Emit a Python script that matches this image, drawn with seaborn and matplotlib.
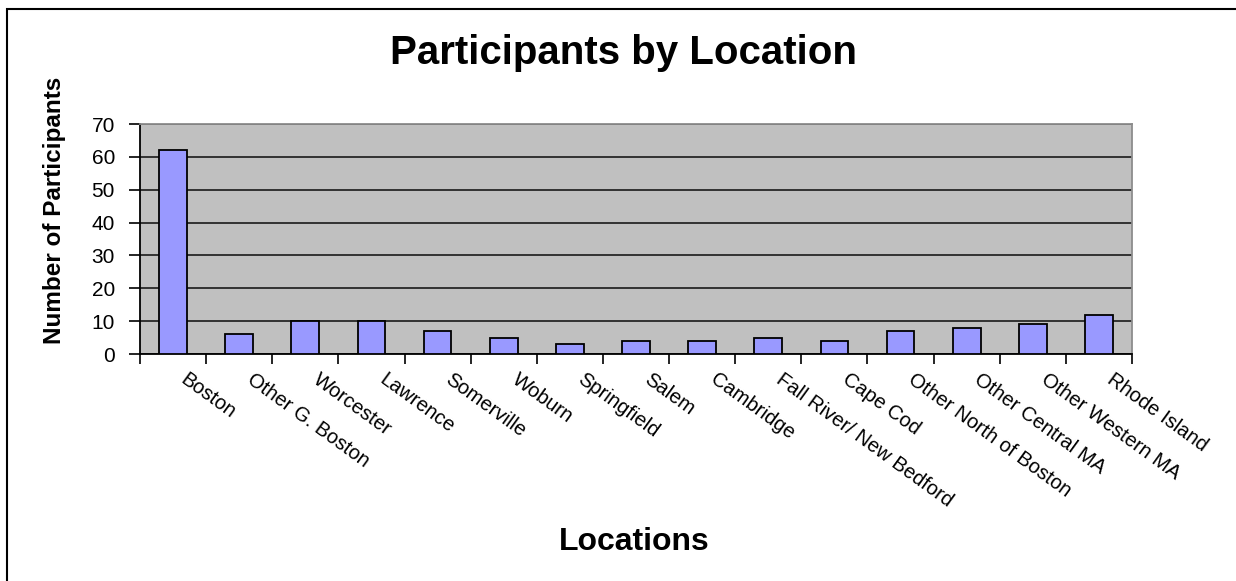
import matplotlib
matplotlib.use("Agg")
import matplotlib.pyplot as plt
import matplotlib.transforms as mtransforms
from matplotlib.patches import Rectangle
import numpy as np
import pandas as pd
import seaborn as sns

locations = ["Boston", "Other G. Boston", "Worcester", "Lawrence", "Somerville",
             "Woburn", "Springfield", "Salem", "Cambridge", "Fall River/ New Bedford",
             "Cape Cod", "Other North of Boston", "Other Central MA",
             "Other Western MA", "Rhode Island"]
participants = [62, 6, 10, 10, 7, 5, 3, 4, 4, 5, 4, 7, 8, 9, 12]
y_ticks = [0, 10, 20, 30, 40, 50, 60, 70]

title = "Participants by Location"
x_label = "Locations"
y_label = "Number of Participants"

sns.set_style("ticks")
plt.rcParams["font.family"] = ["Liberation Sans", "DejaVu Sans"]
plt.rcParams["text.color"] = "black"
plt.rcParams["xtick.color"] = "black"
plt.rcParams["ytick.color"] = "black"
plt.rcParams["xtick.labelcolor"] = "black"
plt.rcParams["ytick.labelcolor"] = "black"

W, H = 1236, 581
fig = plt.figure(figsize=(W / 100, H / 100), dpi=100)
ax = fig.add_axes([140 / W, 1 - 354 / H, (1132 - 140) / W, (354 - 124) / H])

df = pd.DataFrame({"Location": locations, "Participants": participants})
sns.barplot(data=df, x="Location", y="Participants", color="#9999FF",
            edgecolor="black", linewidth=1.3, width=0.42, saturation=1,
            ax=ax, zorder=3)

ax.set_facecolor("#C0C0C0")
ax.set_ylim(0, 70)
ax.set_xlim(-0.5, len(locations) - 0.5)
ax.set_yticks(y_ticks)
ax.set_yticklabels([str(v) for v in y_ticks], fontsize=15, color="black")
ax.yaxis.grid(True, color="#1a1a1a", linewidth=1.2, zorder=1)
ax.set_axisbelow(True)
ax.tick_params(axis="y", direction="out", length=8, width=1.2, color="black", pad=10)

# category labels at centers, tick marks at boundaries
ax.set_xticks(np.arange(len(locations)))
ax.set_xticklabels(locations, fontsize=14.5, rotation=-36, ha="left", va="center",
                   rotation_mode="anchor", color="black")
ax.tick_params(axis="x", which="major", length=0, pad=17)
ax.set_xticks(np.arange(len(locations) + 1) - 0.5, minor=True)
ax.tick_params(axis="x", which="minor", direction="out", length=7, width=1.2, color="black")
offset = mtransforms.ScaledTranslation(10 / 100, 0, fig.dpi_scale_trans)
for lbl in ax.get_xticklabels():
    lbl.set_transform(lbl.get_transform() + offset)

for s in ["left", "bottom"]:
    ax.spines[s].set_color("black")
    ax.spines[s].set_linewidth(1.3)
for s in ["top", "right"]:
    ax.spines[s].set_color("#8c8c8c")
    ax.spines[s].set_linewidth(1.3)

ax.set_xlabel("")
ax.set_ylabel("")
fig.text(623 / W, 1 - 53 / H, title, ha="center", va="center",
         fontsize=29, fontweight="bold", color="black")
fig.text(634 / W, 1 - 542 / H, x_label, ha="center", va="center",
         fontsize=23, fontweight="bold", color="black")
fig.text(54 / W, 1 - 210 / H, y_label, ha="center", va="center",
         fontsize=17.5, fontweight="bold", rotation=90, color="black")

# chart-area border (left and top visible)
fig.patches.append(Rectangle((7 / W, -0.2), 1.5, 1 - 9 / H + 0.2,
                             transform=fig.transFigure, fill=False,
                             edgecolor="black", linewidth=1.5, clip_on=False))

fig.savefig("out.png", dpi=100)
